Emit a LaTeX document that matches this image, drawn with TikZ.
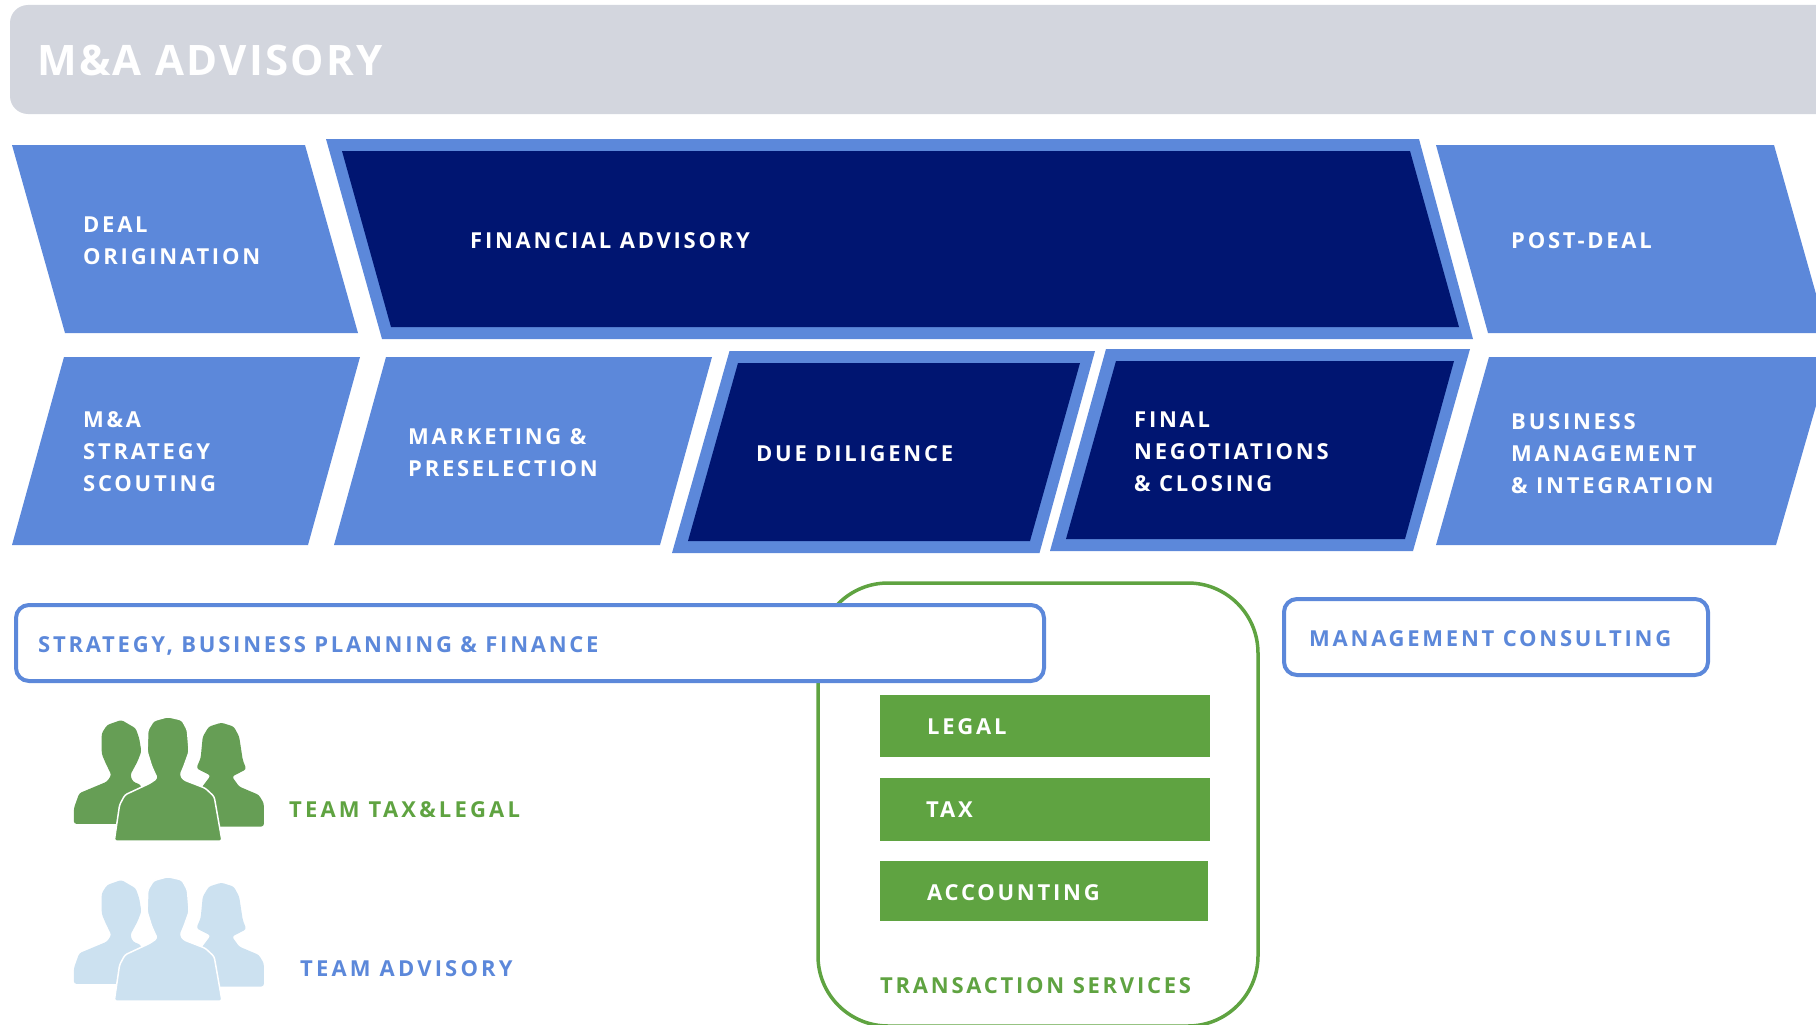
\documentclass[tikz,border=0pt]{standalone}
\usepackage{fontspec}
\setmainfont{Open Sans}
\newfontfamily\lblfont[LetterSpace=12.5]{Open Sans}
\newfontfamily\widefont[LetterSpace=14.5]{Open Sans}
\newfontfamily\ttlfont[LetterSpace=5.5]{Open Sans}
\definecolor{cblue}{HTML}{5C88DA}
\definecolor{cnavy}{HTML}{001571}
\definecolor{cgrey}{HTML}{D3D6DE}
\definecolor{cgreen}{HTML}{5FA341}
\definecolor{cicong}{HTML}{669E55}
\definecolor{ciconb}{HTML}{CCE1F0}
\tikzset{
  lbl/.style={anchor=west,inner sep=0pt,align=left,text=white,font=\fontsize{22}{32}\selectfont\lblfont\bfseries},
  bluelbl/.style={lbl,text=cblue},
  greenlbl/.style={lbl,text=cgreen},
  teamlbl/.style={font=\fontsize{22}{32}\selectfont\widefont\bfseries},
  lightpoly/.style={fill=cblue,draw=none},
  darkpoly/.style={fill=cnavy,draw=none},
  roundbox/.style={draw=cblue,line width=4pt,fill=white,rounded corners=13pt},
  barbox/.style={fill=cgreen,draw=none},
  people/.pic={
    \begin{scope}[xscale=0.357,yscale=0.333,rounded corners=2.5pt]
      \fill[pic actions] (207,432) -- (207,385) -- (222,340) -- (300,305) -- (312,285) -- (296,250) -- (285,222) -- (285,205) -- (285,160) -- (300,135) -- (340,120) -- (380,145) -- (390,175) -- (396,215) -- (385,245) -- (365,285) -- (372,305) -- (395,315) -- (400,432) -- cycle;
      \fill[pic actions] (560,440) -- (560,330) -- (590,287) -- (550,265) -- (562,235) -- (568,170) -- (585,140) -- (620,128) -- (655,140) -- (670,170) -- (680,240) -- (690,268) -- (650,290) -- (670,320) -- (725,345) -- (739,370) -- (739,440) -- cycle;
      \filldraw[pic actions,draw=white,line width=1.5pt] (320,484) -- (335,375) -- (350,345) -- (420,310) -- (440,295) -- (425,260) -- (412,215) -- (414,150) -- (430,122) -- (470,110) -- (510,120) -- (525,150) -- (530,215) -- (515,260) -- (505,285) -- (515,300) -- (575,325) -- (600,350) -- (622,484) -- cycle;
    \end{scope}
  }
}
\begin{document}
\begin{tikzpicture}[x=1pt,y=-1pt]
\useasboundingbox (0,0) rectangle (1816,1025);
\clip (0,0) rectangle (1816,1025);
% header
\fill[cgrey,rounded corners=18pt] (10,5) rectangle (1860,114);
\node[anchor=west,inner sep=0pt,text=white,font=\fontsize{42}{50}\selectfont\ttlfont\bfseries] (title) at (37,60) {M\&A ADVISORY};
% top row
\fill[lightpoly] (12,145) -- (305,145) -- (358,333) -- (65,333) -- cycle;
\fill[lightpoly] (326,139) -- (1419,139) -- (1473,339) -- (382,339) -- cycle;
\fill[darkpoly] (342,151) -- (1410,151) -- (1459,327) -- (391,327) -- cycle;
\fill[lightpoly] (1436,145) -- (1774,145) -- (1827,333) -- (1488,333) -- cycle;
% bottom row
\fill[lightpoly] (64,357) -- (360,357) -- (308,545) -- (12,545) -- cycle;
\fill[lightpoly] (386,357) -- (712,357) -- (660,545) -- (334,545) -- cycle;
\fill[lightpoly] (729.5,351) -- (1095,351) -- (1039.5,553) -- (672,553) -- cycle;
\fill[darkpoly] (738,363) -- (1080,363) -- (1030,541) -- (688,541) -- cycle;
\fill[lightpoly] (1106,349) -- (1470,349) -- (1413,551) -- (1050,551) -- cycle;
\fill[darkpoly] (1116,361) -- (1454,361) -- (1405,539) -- (1066,539) -- cycle;
\fill[lightpoly] (1489,357) -- (1830,357) -- (1776,545) -- (1436,545) -- cycle;
% lower area
\draw[draw=cgreen,line width=3.5pt,rounded corners=70pt] (818,583) rectangle (1258,1026);
\draw[roundbox] (16,605) rectangle (1044,681);
\draw[roundbox] (1284,599) rectangle (1708,675);
\fill[barbox] (880,695) rectangle (1210,757);
\fill[barbox] (880,778) rectangle (1210,841);
\fill[barbox] (880,861) rectangle (1208,921);
\pic[fill=cicong] at (0,680) {people};
\pic[fill=ciconb] at (0,840) {people};
% labels
\node[lbl] (deal) at (83,241) {DEAL\\ORIGINATION};
\node[lbl] (fin) at (470,241) {FINANCIAL ADVISORY};
\node[lbl] (post) at (1511,241) {POST-DEAL};
\node[lbl] (scout) at (83,452) {M\&A\\STRATEGY\\SCOUTING};
\node[lbl] (mkt) at (408,453) {MARKETING \&\\PRESELECTION};
\node[lbl] (dd) at (756,454) {DUE DILIGENCE};
\node[lbl] (final) at (1134,452) {FINAL\\NEGOTIATIONS\\\& CLOSING};
\node[lbl] (biz) at (1511,454) {BUSINESS\\MANAGEMENT\\\& INTEGRATION};
\node[bluelbl] (strat) at (38,646) {STRATEGY, BUSINESS PLANNING \& FINANCE};
\node[bluelbl] (mgmt) at (1309,639) {MANAGEMENT CONSULTING};
\node[lbl] (legal) at (927,727) {LEGAL};
\node[lbl] (tax) at (926,810) {TAX};
\node[lbl] (acc) at (927,893) {ACCOUNTING};
\node[greenlbl] (ts) at (880,986) {TRANSACTION SERVICES};
\node[greenlbl,teamlbl] (ttl) at (289,810) {TEAM TAX\&LEGAL};
\node[bluelbl,teamlbl] (tadv) at (300,969) {TEAM ADVISORY};
\end{tikzpicture}
\end{document}
